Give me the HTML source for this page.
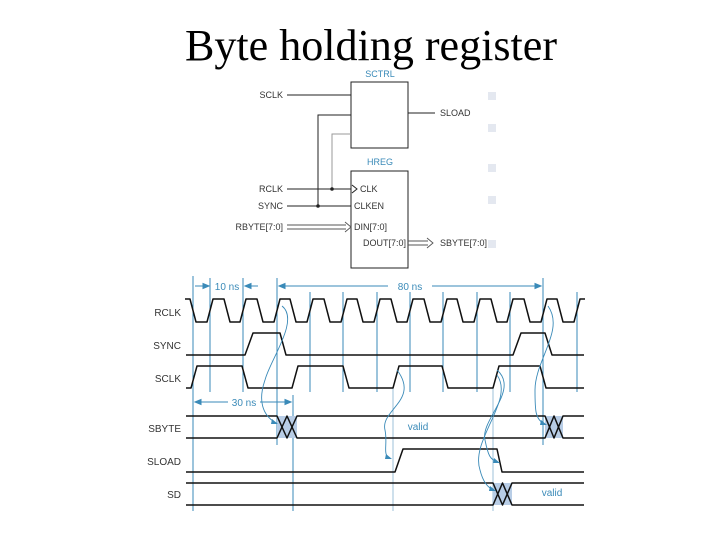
<!DOCTYPE html>
<html><head><meta charset="utf-8"><style>
html,body{margin:0;padding:0;background:#fff;}
svg{display:block;}
</style></head><body>
<svg width="720" height="540" viewBox="0 0 720 540" xmlns="http://www.w3.org/2000/svg">
<text x="371" y="60" text-anchor="middle" font-family="Liberation Serif, serif" font-size="44" fill="#000" textLength="372" lengthAdjust="spacingAndGlyphs">Byte holding register</text>

<g fill="#e4e8f0">
<rect x="488" y="92" width="8" height="8"/><rect x="488" y="124" width="8" height="8"/>
<rect x="488" y="164" width="8" height="8"/><rect x="488" y="196" width="8" height="8"/>
<rect x="488" y="240" width="8" height="8"/>
</g>

<g font-family="Liberation Sans, sans-serif" font-size="9" fill="#333">
<text x="380" y="77" text-anchor="middle" fill="#3a8ab8">SCTRL</text>
<text x="380" y="165" text-anchor="middle" fill="#3a8ab8">HREG</text>
<text x="283" y="98" text-anchor="end">SCLK</text>
<text x="440" y="116">SLOAD</text>
<text x="283" y="192" text-anchor="end">RCLK</text>
<text x="283" y="209" text-anchor="end">SYNC</text>
<text x="283" y="230" text-anchor="end">RBYTE[7:0]</text>
<text x="360" y="192">CLK</text>
<text x="354" y="209">CLKEN</text>
<text x="354" y="230">DIN[7:0]</text>
<text x="406" y="246" text-anchor="end">DOUT[7:0]</text>
<text x="440" y="246">SBYTE[7:0]</text>
</g>
<g stroke="#222" stroke-width="1" fill="none">
<rect x="351" y="82" width="57" height="66"/>
<rect x="351" y="171" width="57" height="97"/>
<line x1="287" y1="95" x2="351" y2="95"/>
<line x1="408" y1="113" x2="435" y2="113"/>
<polyline points="351,115 318,115 318,206"/>
<line x1="287" y1="189" x2="351" y2="189"/>
<line x1="287" y1="206" x2="351" y2="206"/>
<polyline points="352,185 357,189 352,193"/>
</g>
<polyline points="351,134 332,134 332,189" stroke="#999" fill="none"/>
<circle cx="332" cy="189" r="1.8" fill="#222"/>
<circle cx="318" cy="206" r="1.8" fill="#222"/>
<g stroke="#555" fill="none" stroke-width="0.9">
<line x1="287" y1="225" x2="346" y2="225"/><line x1="287" y1="229" x2="346" y2="229"/>
<polyline points="345,222 351,227 345,232"/>
<line x1="408" y1="241" x2="428" y2="241"/><line x1="408" y1="245" x2="428" y2="245"/>
<polyline points="427,238 433,243 427,248"/>
</g>

<g font-family="Liberation Sans, sans-serif" font-size="10" fill="#333" text-anchor="end">
<text x="181" y="316">RCLK</text>
<text x="181" y="349">SYNC</text>
<text x="181" y="382">SCLK</text>
<text x="181" y="432">SBYTE</text>
<text x="181" y="465">SLOAD</text>
<text x="181" y="498">SD</text>
</g>

<g stroke="#3a8ab8" stroke-width="1">
<line x1="193" y1="276" x2="193" y2="511"/>
<line x1="210" y1="278" x2="210" y2="392"/>
<line x1="243" y1="278" x2="243" y2="392"/>
<line x1="277" y1="278" x2="277" y2="445"/>
<line x1="310" y1="292" x2="310" y2="392"/>
<line x1="343" y1="292" x2="343" y2="392"/>
<line x1="377" y1="292" x2="377" y2="392"/>
<line x1="410" y1="292" x2="410" y2="392"/>
<line x1="443" y1="292" x2="443" y2="392"/>
<line x1="477" y1="292" x2="477" y2="392"/>
<line x1="510" y1="292" x2="510" y2="392"/>
<line x1="543" y1="278" x2="543" y2="445"/>
<line x1="577" y1="292" x2="577" y2="392"/>
<line x1="293" y1="395" x2="293" y2="511"/>
</g>
<g stroke="#9cc2da" stroke-width="1">
<line x1="393" y1="388" x2="393" y2="511"/>
<line x1="493" y1="388" x2="493" y2="511"/>
</g>

<g stroke="#3a8ab8" stroke-width="1" fill="#3a8ab8">
<line x1="195" y1="286" x2="206" y2="286"/><polygon points="209,286 203,283.5 203,288.5"/>
<line x1="250" y1="286" x2="258" y2="286"/><polygon points="245,286 251,283.5 251,288.5"/>
<line x1="282" y1="286" x2="388" y2="286"/><polygon points="279,286 285,283.5 285,288.5"/>
<line x1="432" y1="286" x2="538" y2="286"/><polygon points="541,286 535,283.5 535,288.5"/>
<line x1="198" y1="402" x2="228" y2="402"/><polygon points="195,402 201,399.5 201,404.5"/>
<line x1="260" y1="402" x2="288" y2="402"/><polygon points="291,402 285,399.5 285,404.5"/>
</g>
<g font-family="Liberation Sans, sans-serif" font-size="10" fill="#3a8ab8" text-anchor="middle">
<text x="227" y="290">10 ns</text>
<text x="410" y="290">80 ns</text>
<text x="244" y="406">30 ns</text>
<text x="418" y="430">valid</text>
<text x="552" y="496">valid</text>
</g>

<g fill="#b8cde6" stroke="none">
<polygon points="277,416 297,416 297,438 277,438"/>
<polygon points="545,416 563,416 563,438 545,438"/>
<polygon points="493,483 512,483 512,505 493,505"/>
</g>
<g stroke="#111" stroke-width="1.5" fill="none" stroke-linejoin="round">
<polyline points="185,299 190,299 196,322 207,322 213,299 224,299 230,322 240,322 246,299 257,299 263,322 274,322 280,299 290,299 296,322 307,322 313,299 324,299 330,322 341,322 347,299 357,299 363,322 374,322 380,299 391,299 397,322 407,322 413,299 424,299 430,322 441,322 447,299 457,299 463,322 474,322 480,299 491,299 497,322 507,322 513,299 524,299 530,322 541,322 547,299 557,299 563,322 574,322 580,299 585,299"/>
<polyline points="186,355 245,355 253,333 280,333 286,355 513,355 521,333 545,333 552,355 584,355"/>
<polyline points="186,388 191,388 197,366 242,366 248,388 292,388 298,366 343,366 349,388 393,388 399,366 442,366 448,388 493,388 499,366 540,366 546,388 584,388"/>
<polyline points="186,416 277,416 287,438 297,416 545,416 554,438 563,416 584,416"/>
<polyline points="186,438 277,438 287,416 297,438 545,438 554,416 563,438 584,438"/>
<polyline points="186,472 395,472 403,449 497,449 502,472 584,472"/>
<polyline points="186,483 493,483 502.5,505 512,483 584,483"/>
<polyline points="186,505 493,505 502.5,483 512,505 584,505"/>
</g>

<g stroke="#3a8ab8" stroke-width="0.9" fill="none">
<path d="M282,306 C300,320 270,360 265,380 C258,400 262,415 276,423"/>
<path d="M397,370 C420,400 380,410 385,430 C388,445 382,455 390,458"/>
<path d="M497,370 C520,390 480,420 485,440 C488,455 490,460 498,462"/>
<path d="M497,375 C515,400 470,440 480,470 C483,482 488,488 494,490"/>
<path d="M548,306 C565,330 535,360 535,390 C535,410 535,420 545,424"/>
</g>
<g fill="#3a8ab8">
<polygon points="278,424 272,419 271,424"/>
<polygon points="392,459 386,454 385,459"/>
<polygon points="500,463 494,458 493,463"/>
<polygon points="496,491 490,486 489,491"/>
<polygon points="547,425 541,420 540,425"/>
</g>
</svg>
</body></html>
